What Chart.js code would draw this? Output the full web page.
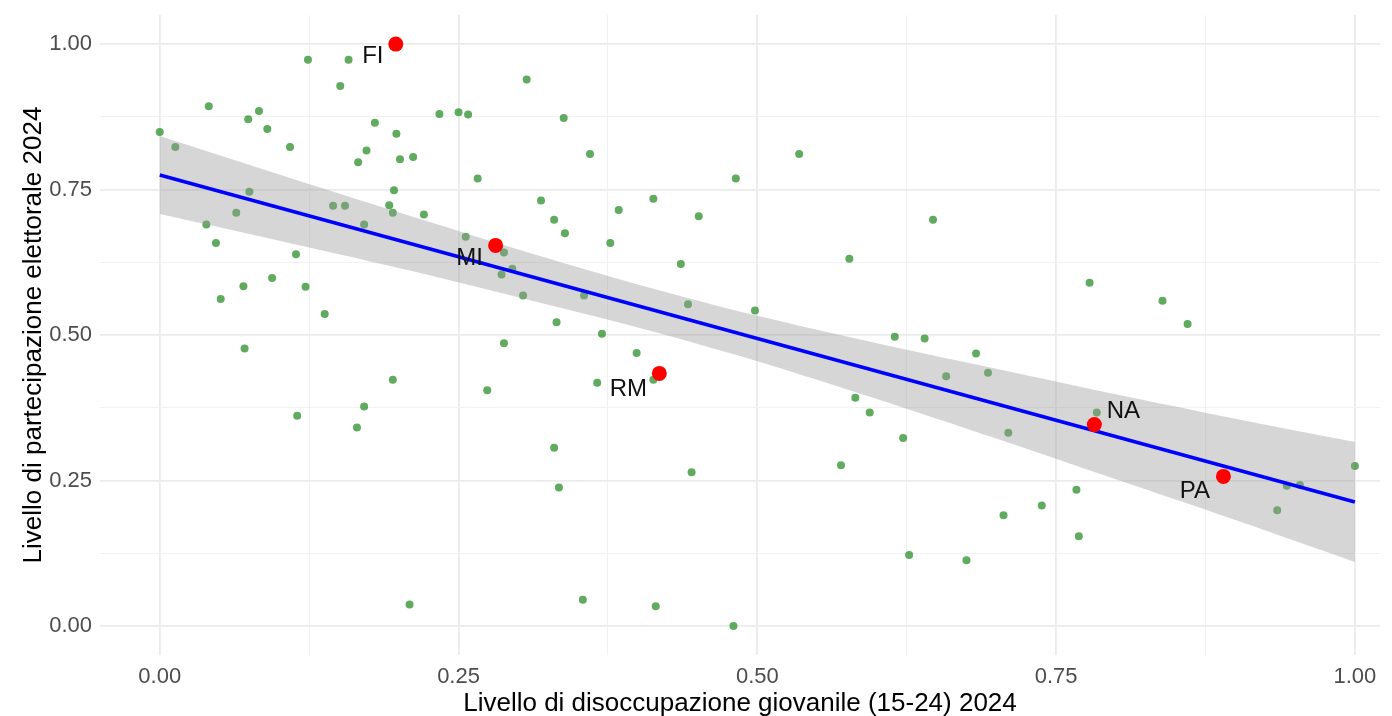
<!DOCTYPE html>
<html>
<head>
<meta charset="utf-8">
<script src="https://cdn.jsdelivr.net/npm/chart.js@4.4.1/dist/chart.umd.min.js"></script>
<style>
  html, body { margin: 0; padding: 0; background: #ffffff; }
  #wrap { width: 1392px; height: 716px; position: relative; }
</style>
</head>
<body>
<div id="wrap"><canvas id="c"></canvas></div>
<script>
// ---- Data ----
const provinceX = [0.000,0.013,0.041,0.074,0.083,0.090,0.109,0.124,0.158,0.151,0.180,0.198,0.173,0.166,0.201,0.212,0.234,0.075,0.196,0.192,0.195,0.221,0.145,0.155,0.171,0.064,0.039,0.047,0.114,0.094,0.070,0.122,0.051,0.138,0.307,0.250,0.258,0.338,0.360,0.482,0.266,0.319,0.413,0.384,0.451,0.330,0.339,0.377,0.256,0.288,0.295,0.286,0.304,0.355,0.436,0.442,0.498,0.332,0.370,0.288,0.399,0.413,0.366,0.274,0.330,0.445,0.334,0.354,0.415,0.480,0.071,0.195,0.115,0.171,0.165,0.209,0.535,0.647,0.577,0.615,0.640,0.683,0.693,0.658,0.582,0.594,0.622,0.710,0.570,0.767,0.738,0.706,0.627,0.675,0.769,0.778,0.839,0.860,0.784,1.000,0.935,0.943,0.954];
const provinceY = [0.849,0.823,0.893,0.871,0.885,0.854,0.823,0.973,0.973,0.928,0.865,0.846,0.817,0.797,0.802,0.806,0.880,0.746,0.749,0.723,0.710,0.707,0.722,0.722,0.690,0.710,0.690,0.658,0.639,0.598,0.584,0.583,0.562,0.536,0.939,0.883,0.879,0.873,0.811,0.769,0.769,0.731,0.734,0.715,0.704,0.698,0.675,0.658,0.669,0.642,0.614,0.604,0.568,0.568,0.622,0.553,0.542,0.522,0.502,0.486,0.469,0.423,0.418,0.405,0.306,0.264,0.238,0.045,0.034,0.000,0.477,0.423,0.361,0.377,0.341,0.037,0.811,0.698,0.631,0.497,0.494,0.468,0.435,0.429,0.392,0.367,0.323,0.332,0.276,0.234,0.207,0.190,0.122,0.113,0.154,0.590,0.559,0.519,0.367,0.275,0.199,0.241,0.242];

const cityCodes = ['FI','MI','RM','NA','PA'];
const cityX = [0.1975,0.281,0.418,0.782,0.890];
const cityY = [1.000,0.654,0.434,0.346,0.257];

const trendX = [0, 1];
const trendY = [0.775, 0.213];

const bandX     = [0.0,0.1,0.2,0.3,0.4,0.5,0.6,0.7,0.8,0.9,1.0];
const bandUpper = [0.842,0.776,0.711,0.647,0.587,0.533,0.486,0.442,0.398,0.356,0.316];
const bandLower = [0.708,0.662,0.615,0.565,0.513,0.455,0.390,0.322,0.252,0.182,0.110];

const majorTicks = [0, 0.25, 0.5, 0.75, 1];
const majorTickLabels = ['0.00','0.25','0.50','0.75','1.00'];
const minorTicks = [0.125, 0.375, 0.625, 0.875];

const xTitle = 'Livello di disoccupazione giovanile (15-24) 2024';
const yTitle = 'Livello di partecipazione elettorale 2024';

// ---- Styles ----
const FONT = 'Liberation Sans';
const labelOffsets = { FI: [-23, 12], MI: [-26, 13], RM: [-31, 16], NA: [29, -13], PA: [-28.5, 15] };

const toPts = (xs, ys) => xs.map((v, i) => ({ x: v, y: ys[i] }));
const allTicks = majorTicks.concat(minorTicks).sort((a, b) => a - b);
const isMajor = v => majorTicks.some(m => Math.abs(m - v) < 1e-9);
const labelFor = v => { const i = majorTicks.findIndex(m => Math.abs(m - v) < 1e-9); return i >= 0 ? majorTickLabels[i] : ''; };

const cityLabels = {
  id: 'cityLabels',
  afterDatasetsDraw(chart) {
    const { ctx, scales: { x, y } } = chart;
    ctx.save();
    ctx.font = '24px "' + FONT + '"';
    ctx.fillStyle = '#111111';
    ctx.textAlign = 'center';
    ctx.textBaseline = 'middle';
    cityCodes.forEach((c, i) => {
      const off = labelOffsets[c] || [0, 0];
      ctx.fillText(c, x.getPixelForValue(cityX[i]) + off[0], y.getPixelForValue(cityY[i]) + off[1]);
    });
    ctx.restore();
  }
};

const gridOpts = {
  color: ctx => (ctx.tick && isMajor(ctx.tick.value)) ? '#ebebeb' : '#f1f1f1',
  lineWidth: ctx => (ctx.tick && isMajor(ctx.tick.value)) ? 1.8 : 1,
  drawTicks: false
};

const zeroPad = s => { s.paddingTop = 0; s.paddingBottom = 0; s.paddingLeft = 0; s.paddingRight = 0; };

new Chart(document.getElementById('c'), {
  type: 'scatter',
  data: {
    datasets: [
      {
        label: 'province',
        data: toPts(provinceX, provinceY),
        backgroundColor: 'rgba(34,139,34,0.72)',
        borderWidth: 0,
        pointRadius: 4,
        order: 5
      },
      {
        type: 'line',
        label: 'upper',
        data: toPts(bandX, bandUpper),
        borderWidth: 0,
        borderColor: 'rgba(0,0,0,0)',
        pointRadius: 0,
        backgroundColor: 'rgba(153,153,153,0.4)',
        fill: '+1',
        tension: 0.3,
        order: 4
      },
      {
        type: 'line',
        label: 'lower',
        data: toPts(bandX, bandLower),
        borderWidth: 0,
        borderColor: 'rgba(0,0,0,0)',
        pointRadius: 0,
        fill: false,
        tension: 0.3,
        order: 4
      },
      {
        type: 'line',
        label: 'trend',
        data: toPts(trendX, trendY),
        borderColor: '#0000ff',
        borderWidth: 3.5,
        pointRadius: 0,
        fill: false,
        order: 2
      },
      {
        label: 'città',
        data: toPts(cityX, cityY),
        backgroundColor: '#ff0000',
        borderWidth: 0,
        pointRadius: 7.5,
        order: 1
      }
    ]
  },
  options: {
    responsive: true,
    maintainAspectRatio: false,
    animation: false,
    layout: { padding: { top: 15, right: 12, left: 0, bottom: 0 } },
    plugins: { legend: { display: false }, tooltip: { enabled: false } },
    scales: {
      x: {
        type: 'linear',
        min: -0.05,
        max: 1.021,
        afterBuildTicks: s => { s.ticks = allTicks.map(v => ({ value: v })); },
        afterFit: s => { s.height = 61; zeroPad(s); },
        grid: gridOpts,
        border: { display: false },
        ticks: {
          autoSkip: false,
          maxRotation: 0,
          padding: 9,
          color: '#4d4d4d',
          font: { family: FONT, size: 22 },
          callback: v => labelFor(v)
        },
        title: {
          display: true,
          text: xTitle,
          color: '#000000',
          font: { family: FONT, size: 26, lineHeight: 0.95 },
          padding: { top: 0, bottom: 0 }
        }
      },
      y: {
        type: 'linear',
        min: -0.05,
        max: 1.05,
        afterBuildTicks: s => { s.ticks = allTicks.map(v => ({ value: v })); },
        afterFit: s => { s.width = 100; zeroPad(s); },
        grid: gridOpts,
        border: { display: false },
        ticks: {
          autoSkip: false,
          padding: 8,
          color: '#4d4d4d',
          font: { family: FONT, size: 22 },
          callback: v => labelFor(v)
        },
        title: {
          display: true,
          text: yTitle,
          color: '#000000',
          font: { family: FONT, size: 26 },
          padding: { top: 18, bottom: 0 }
        }
      }
    }
  },
  plugins: [cityLabels]
});
</script>
</body>
</html>
